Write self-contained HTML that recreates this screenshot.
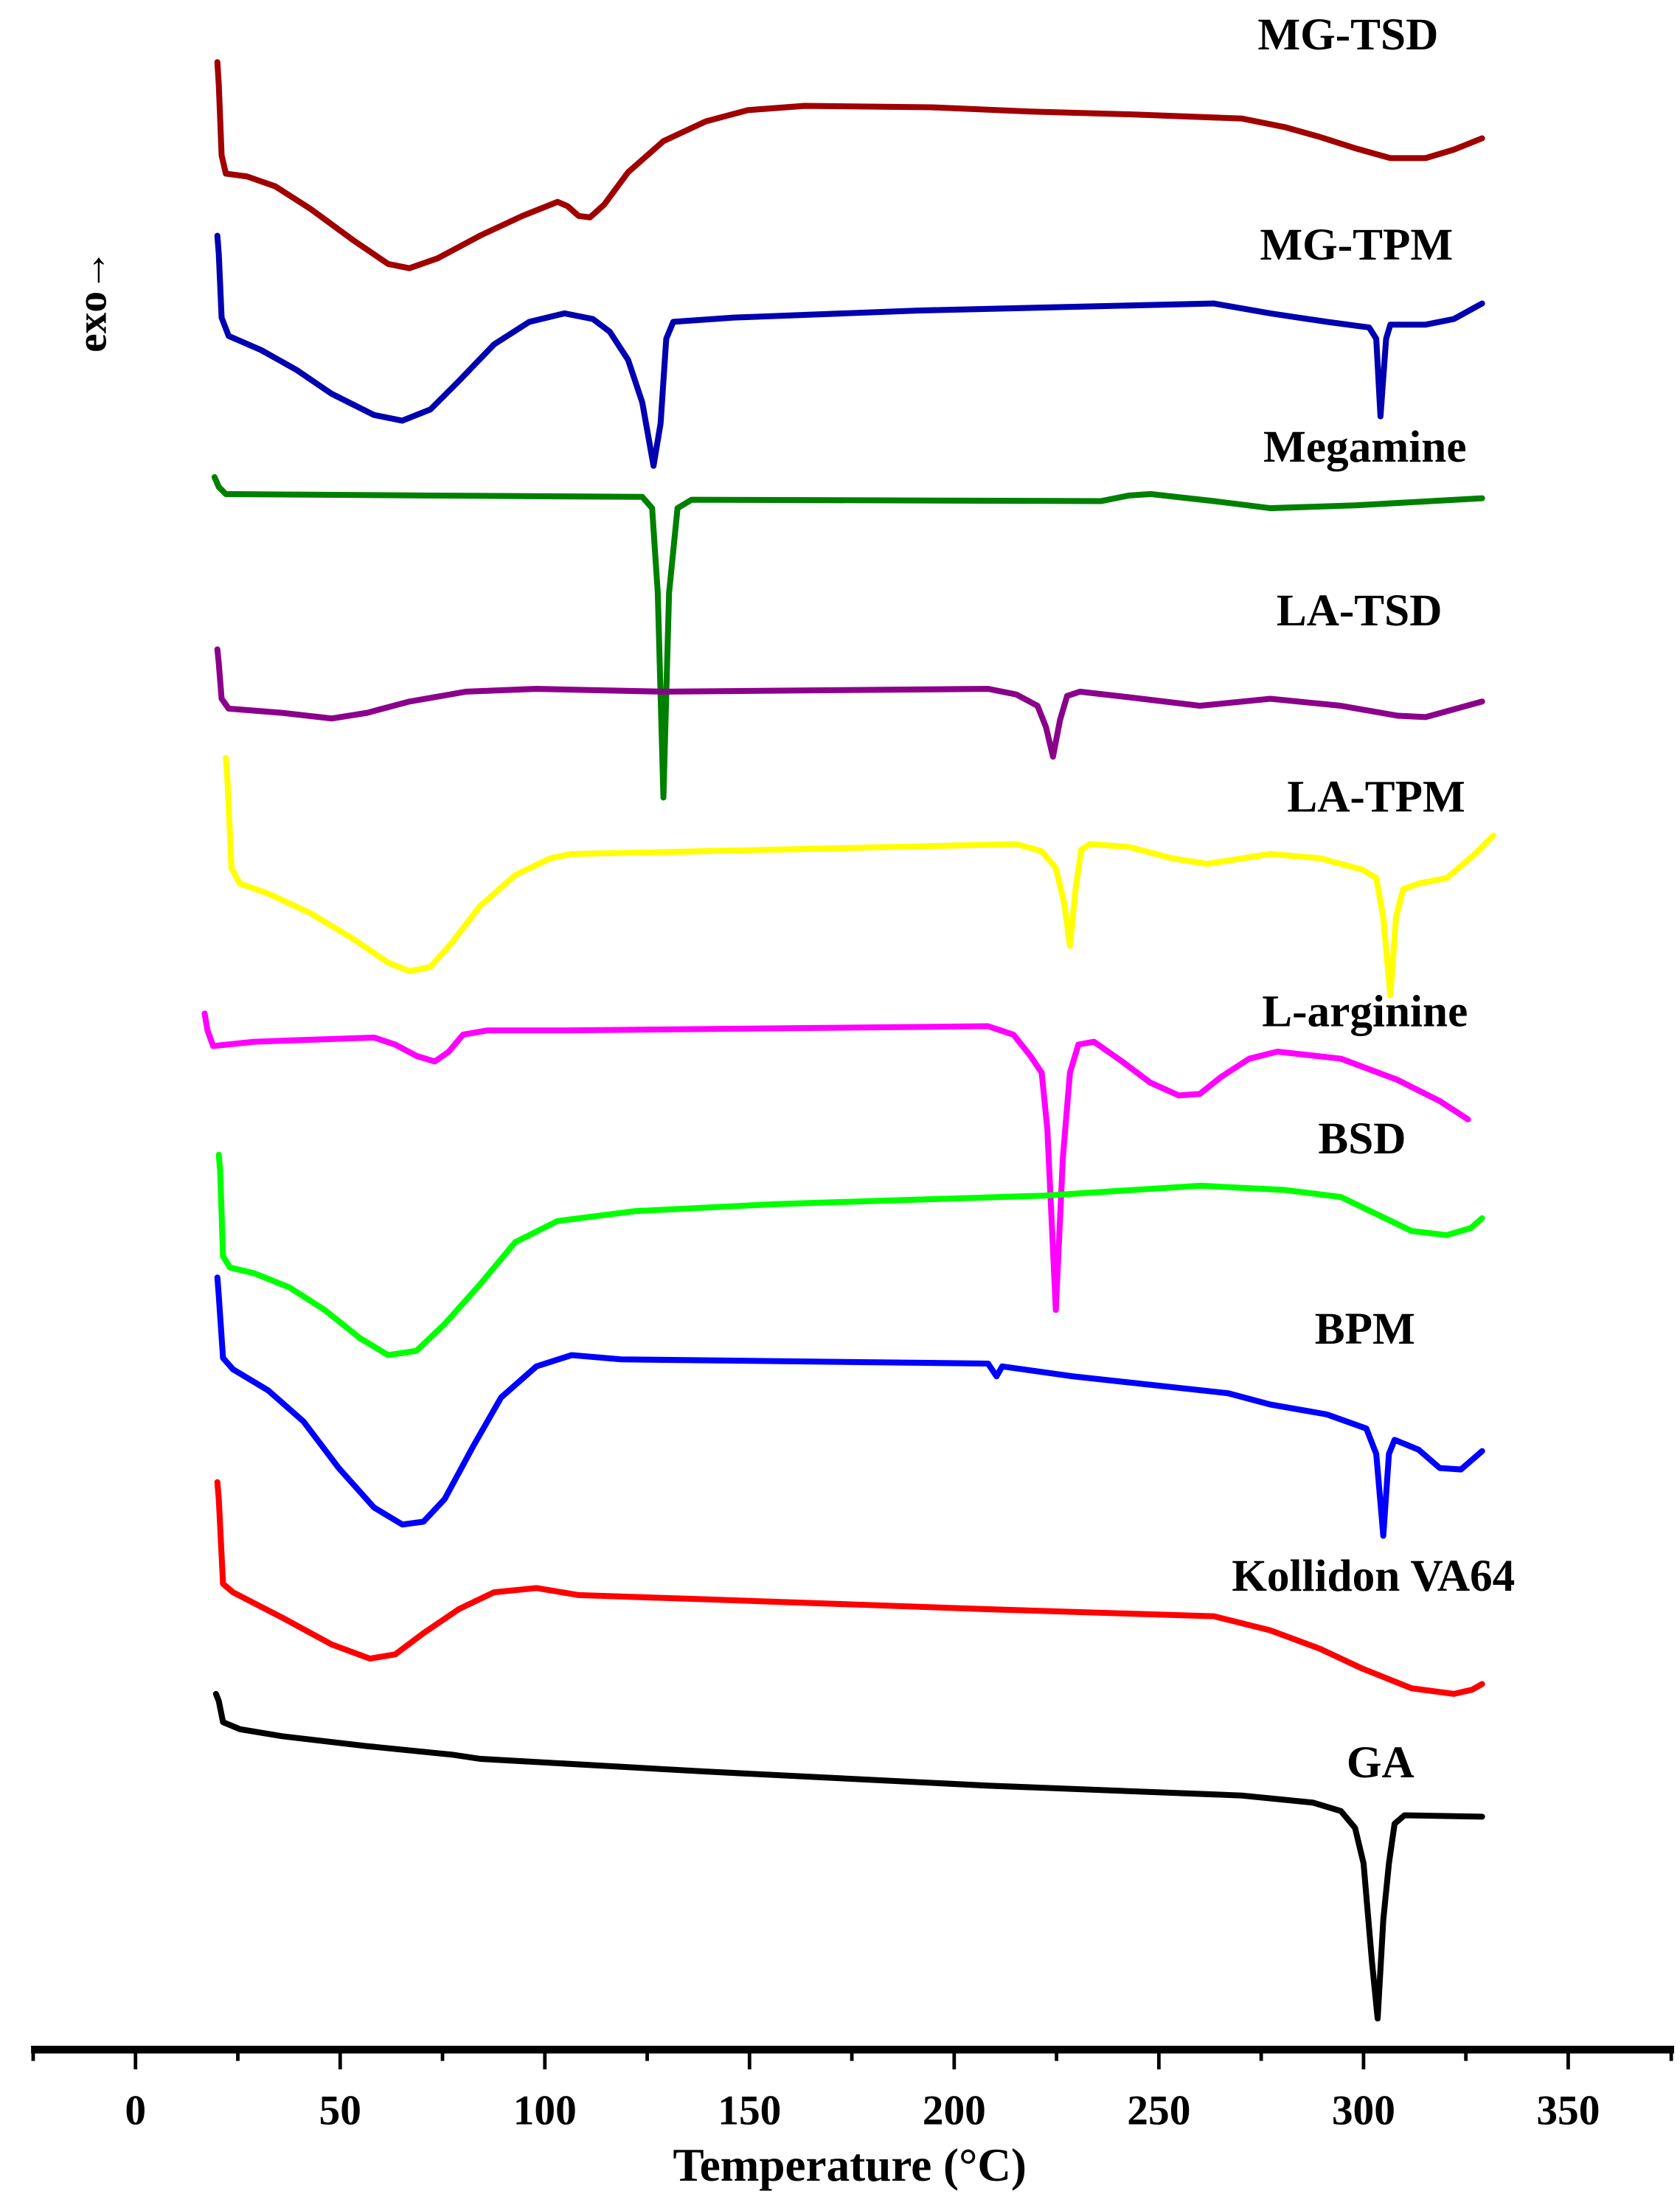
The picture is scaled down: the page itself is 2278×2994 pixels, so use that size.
<!DOCTYPE html>
<html><head><meta charset="utf-8"><style>html,body{margin:0;padding:0;background:#fff}svg{display:block}</style></head><body>
<svg width="2278" height="2994" viewBox="0 0 1190.2 1564.2" preserveAspectRatio="none" xmlns="http://www.w3.org/2000/svg">
<g fill="none" stroke-width="4.2" stroke-linejoin="round" stroke-linecap="round">
<polyline stroke="#a00000" points="154,44 155,60 157,110 160,123 175,125 195,132 220,148 250,170 275,187 290,190 310,183 340,167 370,153 395,143 402,146 410,153 418,154 428,145 445,122 470,100 500,86 530,78 570,75 660,76 730,79 800,81 880,84 910,90 935,97 960,105 985,112 1010,112 1030,106 1050,98"/>
<polyline stroke="#0000b0" points="154,167 155,180 157,225 162,238 185,248 210,262 235,279 265,294 285,298 305,290 325,270 350,244 375,228 400,222 420,226 432,235 445,255 455,285 463,330 468,300 472,240 477,228 520,225 650,220 860,215 900,222 940,228 970,232 975,240 978,295 982,240 985,230 1010,230 1030,226 1050,215"/>
<polyline stroke="#008000" points="152,338 155,345 160,350 300,351 455,352 462,360 466,420 470,565 474,420 480,360 490,354 780,355 800,351 815,350 860,355 900,360 960,358 1050,353"/>
<polyline stroke="#8b008b" points="154,460 155,470 157,495 162,502 200,505 235,509 260,505 290,497 330,490 380,488 470,490 700,488 720,492 735,500 741,515 746,536 751,510 756,493 765,490 800,494 850,500 900,495 950,500 990,507 1010,508 1050,497"/>
<polyline stroke="#ffff00" points="160,537 161,550 164,615 170,626 190,633 220,647 250,665 275,682 290,688 305,685 320,668 340,642 365,620 390,608 405,605 500,603 720,598 738,603 748,615 754,640 758,670 762,630 766,602 772,598 800,600 830,608 855,612 900,605 935,608 965,616 975,622 980,650 985,705 989,650 994,630 1005,626 1025,622 1045,605 1058,592"/>
<polyline stroke="#ff00ff" points="145,718 147,730 151,741 180,738 265,735 280,740 295,748 308,752 318,745 328,733 345,730 400,730 700,727 718,733 730,748 738,760 742,800 748,928 753,820 758,760 764,740 775,738 795,752 815,767 835,776 850,775 865,763 885,750 905,745 950,750 990,765 1020,780 1040,793"/>
<polyline stroke="#00ff00" points="155,818 156,830 158,890 163,898 180,902 205,912 230,928 255,948 275,960 295,957 315,938 340,910 365,880 395,865 450,858 550,853 740,847 850,840 910,843 950,848 975,860 1000,872 1025,875 1042,870 1050,863"/>
<polyline stroke="#0000ff" points="154,905 155,918 158,962 165,970 190,985 215,1007 240,1040 265,1068 285,1080 300,1078 315,1062 335,1025 355,990 380,968 405,960 440,963 700,966 706,975 710,968 760,975 870,987 900,995 940,1002 968,1012 975,1030 980,1088 984,1030 988,1020 1005,1027 1020,1040 1035,1041 1050,1028"/>
<polyline stroke="#ff0000" points="154,1050 155,1062 158,1122 165,1128 200,1146 235,1165 262,1175 280,1172 300,1157 325,1140 350,1128 380,1125 410,1130 500,1133 700,1140 860,1145 900,1155 935,1168 965,1182 1000,1196 1030,1200 1043,1197 1050,1193"/>
<polyline stroke="#000000" points="153,1200 155,1205 158,1220 170,1225 200,1230 260,1237 320,1243 340,1246 500,1255 700,1265 880,1272 930,1277 950,1283 960,1295 966,1320 972,1390 976,1430 980,1360 984,1320 988,1292 995,1286 1050,1287"/>
</g>
<g font-family="Liberation Serif, serif" font-weight="bold" font-size="32" fill="#000" text-anchor="middle">
<text x="955" y="35">MG-TSD</text>
<text x="961" y="184">MG-TPM</text>
<text x="967" y="327">Megamine</text>
<text x="963" y="443">LA-TSD</text>
<text x="975" y="575">LA-TPM</text>
<text x="967" y="727">L-arginine</text>
<text x="965" y="817">BSD</text>
<text x="967" y="952">BPM</text>
<text x="973" y="1127">Kollidon VA64</text>
<text x="978" y="1259">GA</text>
<text transform="translate(75,213) rotate(-90)" font-size="30">exo→</text>
</g>
<g stroke="#000">
<line x1="22" y1="1452" x2="1186" y2="1452" stroke-width="5.5"/>
<g stroke-width="2.5">
<line x1="96" y1="1452" x2="96" y2="1466"/><line x1="241" y1="1452" x2="241" y2="1466"/><line x1="386" y1="1452" x2="386" y2="1466"/><line x1="531" y1="1452" x2="531" y2="1466"/><line x1="676" y1="1452" x2="676" y2="1466"/><line x1="821" y1="1452" x2="821" y2="1466"/><line x1="966" y1="1452" x2="966" y2="1466"/><line x1="1111" y1="1452" x2="1111" y2="1466"/>
<line x1="23.5" y1="1452" x2="23.5" y2="1460"/><line x1="168.5" y1="1452" x2="168.5" y2="1460"/><line x1="313.5" y1="1452" x2="313.5" y2="1460"/><line x1="458.5" y1="1452" x2="458.5" y2="1460"/><line x1="603.5" y1="1452" x2="603.5" y2="1460"/><line x1="748.5" y1="1452" x2="748.5" y2="1460"/><line x1="893.5" y1="1452" x2="893.5" y2="1460"/><line x1="1038.5" y1="1452" x2="1038.5" y2="1460"/><line x1="1184" y1="1452" x2="1184" y2="1460"/>
</g></g>
<g font-family="Liberation Serif, serif" font-weight="bold" font-size="30" fill="#000" text-anchor="middle">
<text x="96" y="1505">0</text><text x="241" y="1505">50</text><text x="386" y="1505">100</text><text x="531" y="1505">150</text><text x="676" y="1505">200</text><text x="821" y="1505">250</text><text x="966" y="1505">300</text><text x="1111" y="1505">350</text>
<text x="602" y="1545" font-size="33">Temperature (°C)</text>
</g>
</svg>
</body></html>
